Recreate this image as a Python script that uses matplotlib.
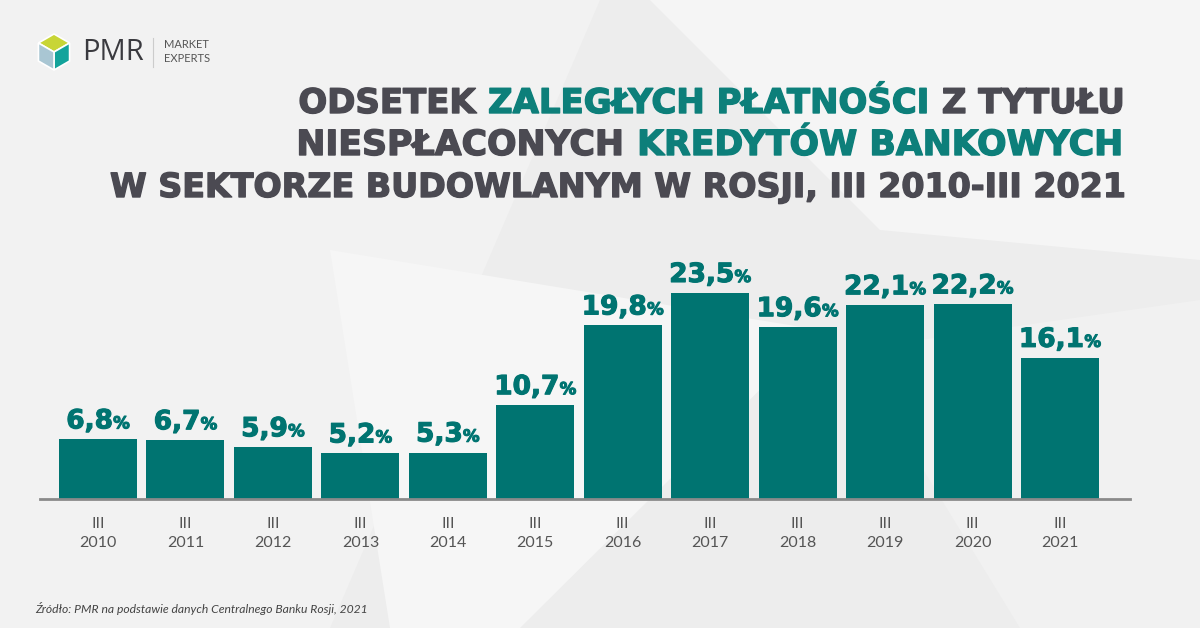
import matplotlib
matplotlib.use("Agg")
import matplotlib.pyplot as plt
from matplotlib.patches import Polygon
import matplotlib.patheffects as pe
import numpy as np

# ---------------- data ----------------
years = ["2010", "2011", "2012", "2013", "2014", "2015", "2016", "2017", "2018", "2019", "2020", "2021"]
quarter = "III"
values = [6.8, 6.7, 5.9, 5.2, 5.3, 10.7, 19.8, 23.5, 19.6, 22.1, 22.2, 16.1]
title_lines = [
    [("ODSETEK ", "dark"), ("ZALEGŁYCH PŁATNOŚCI", "teal"), (" Z TYTUŁU", "dark")],
    [("NIESPŁACONYCH ", "dark"), ("KREDYTÓW BANKOWYCH", "teal")],
    [("W SEKTORZE BUDOWLANYM W ROSJI, III 2010-III 2021", "dark")],
]
source = "Źródło: PMR na podstawie danych Centralnego Banku Rosji, 2021"

# ---------------- style ----------------
W, H = 1200, 628
DPI = 100
BAR = "#007471"
TEAL_T = "#0d7f7a"
DARK = "#4b4a52"
GREY = "#555555"
BG = "#ededed"
FONT = ["Lato", "DejaVu Sans"]
HEAVY = ["DejaVu Sans"]

fig = plt.figure(figsize=(W / DPI, H / DPI), dpi=DPI)
fig.patch.set_facecolor(BG)

def fx(px):
    return px / W

def fy(py):
    return 1 - py / H

# background decoration (light shapes)
bg_shapes = [
    ([(0, 0), (600, 0), (330, 628), (0, 628)], "#f2f2f2"),
    ([(650, 0), (1200, 0), (1200, 260), (880, 230)], "#f5f5f5"),
    ([(330, 250), (820, 330), (520, 628), (390, 628)], "#f6f6f6"),
    ([(850, 350), (1200, 300), (1200, 628), (1020, 628)], "#f1f1f1"),
]
for pts, c in bg_shapes:
    fig.patches.append(Polygon([(fx(x), fy(y)) for x, y in pts], closed=True,
                               transform=fig.transFigure, facecolor=c, edgecolor="none", zorder=-10))

# ---------------- axes ----------------
ax_left, ax_right = 40, 1130
base_y, top_y = 499, 250
ax = fig.add_axes([fx(ax_left), fy(base_y), fx(ax_right - ax_left), (base_y - top_y) / H])
ax.set_zorder(2)
ax.set_facecolor("none")
scale = (499 - 293) / 23.5  # px per unit
ax.set_ylim(0, (base_y - top_y) / scale)
spacing = 87.45
ax.set_xlim(-(98 - ax_left) / spacing, 11 + (ax_right - 1060) / spacing)
x = np.arange(len(values))
ax.bar(x, values, width=78 / spacing, color=BAR, zorder=2)
for s in ["top", "right", "left"]:
    ax.spines[s].set_visible(False)
ax.spines["bottom"].set_color("#8a8a8a")
ax.spines["bottom"].set_linewidth(2)
ax.set_yticks([])
ax.set_xticks(x)
ax.set_xticklabels([f"{quarter}\n{y}" for y in years], fontsize=11.5, color=GREY,
                   fontfamily=FONT, linespacing=1.45)
ax.tick_params(axis="x", length=0, pad=13)

fig.canvas.draw()
renderer = fig.canvas.get_renderer()

def runs_place(runs, x_px, y_px, ha="center", va="baseline", family=HEAVY, fit=None, stroke=0.0):
    """runs: list of (text, size, color, weight). Places them contiguous."""
    texts = []
    for t, size, color, weight in runs:
        tx = fig.text(0, 0, t, fontsize=size, color=color, fontweight=weight,
                      fontfamily=family, va=va, ha="left", transform=fig.transFigure, zorder=5)
        if stroke:
            tx.set_path_effects([pe.withStroke(linewidth=stroke, foreground=color)])
        texts.append(tx)
    widths = [tx.get_window_extent(renderer).width for tx in texts]
    total = sum(widths)
    if fit is not None:
        k = fit / total
        for tx, (t, size, c, wgt) in zip(texts, runs):
            tx.set_fontsize(size * k)
        widths = [tx.get_window_extent(renderer).width for tx in texts]
        total = sum(widths)
    if ha == "center":
        start = x_px - total / 2
    elif ha == "right":
        start = x_px - total
    else:
        start = x_px
    cur = start
    for tx, w in zip(texts, widths):
        tx.set_position((fx(cur), fy(y_px)))
        cur += w
    return texts, total

# value labels
for xi, v in zip(x, values):
    xc = 98 + xi * spacing
    top = base_y - v * scale
    s = f"{v:.1f}".replace(".", ",")
    runs_place([(s, 19, BAR, "bold"), ("%", 12, BAR, "bold")], xc, top - 11, stroke=0.8)

# title, fit to width
col = {"dark": DARK, "teal": TEAL_T}
title_right = 1125
baselines = [113, 155, 197]
fits = [827, 828, 1018]
for line, yb, fw in zip(title_lines, baselines, fits):
    runs_place([(t, 24, col[c], "bold") for t, c in line], title_right, yb, ha="right",
               fit=fw, stroke=1.0)

# source
fig.text(fx(35), fy(613), source, fontsize=8.7, style="italic", color="#444444",
         fontfamily=FONT, ha="left", va="baseline")

# logo
cx, cy, r = 54, 52, 18
ang = np.deg2rad([90, 30, -30, -90, -150, 150])
hexp = [(cx + r * np.cos(a), cy - r * np.sin(a)) for a in ang]
center = (cx, cy)
faces = [
    ([hexp[0], hexp[1], center, hexp[5]], "#c8d536"),
    ([hexp[1], hexp[2], hexp[3], center], "#12a39b"),
    ([hexp[3], hexp[4], hexp[5], center], "#a9c6d3"),
]
for pts, c in faces:
    fig.patches.append(Polygon([(fx(a), fy(b)) for a, b in pts], closed=True,
                               transform=fig.transFigure, facecolor=c, edgecolor="white",
                               linewidth=1.2, zorder=5))
fig.text(fx(82), fy(53), "PMR", fontsize=21, color="#3a3a3f", fontfamily=["Open Sans", "DejaVu Sans"],
         va="center", ha="left")
fig.lines.append(plt.Line2D([fx(153), fx(153)], [fy(38), fy(67)], transform=fig.transFigure,
                            color="#cccccc", linewidth=0.8))
fig.text(fx(164), fy(45), "MARKET", fontsize=8, color="#555555", fontfamily=FONT, va="center", ha="left")
fig.text(fx(164), fy(58), "EXPERTS", fontsize=8, color="#555555", fontfamily=FONT, va="center", ha="left")

fig.savefig("out.png", dpi=DPI, facecolor=fig.get_facecolor())
